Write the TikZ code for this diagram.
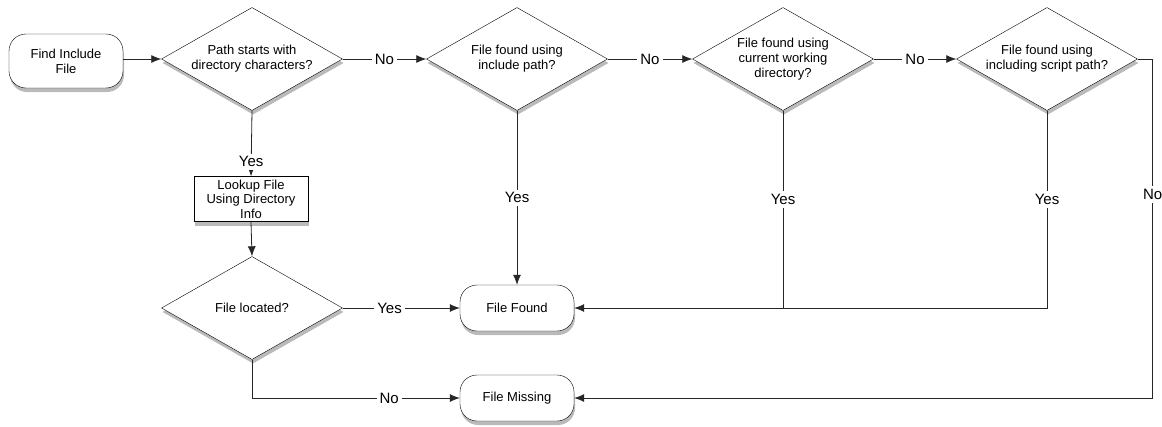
\documentclass[tikz,border=0pt]{standalone}
\usepackage{fontspec}
\setmainfont{Liberation Sans}
\usetikzlibrary{positioning, shapes.geometric, arrows.meta, shadows}

\tikzset{
  shade/.style={drop shadow={shadow xshift=1pt, shadow yshift=-4pt, opacity=0.45, fill=black!60}},
  terminal/.style={draw, fill=white, rounded corners=17pt, minimum width=114pt, minimum height=46pt,
    align=center, font=\fontsize{13}{15}\selectfont, shade},
  decision/.style={draw, diamond, aspect=1.75, fill=white, minimum width=181pt, minimum height=103pt,
    inner sep=0pt, align=center, font=\fontsize{13}{15}\selectfont, shade},
  process/.style={draw, fill=white, minimum width=114pt, minimum height=45pt, inner sep=1pt,
    align=center, font=\fontsize{13}{14.5}\selectfont, shade},
  flow/.style={draw=black!85, line width=0.8pt, -{Latex[length=10pt,width=8pt]}},
  link/.style={draw=black!85, line width=0.8pt},
  lbl/.style={fill=white, inner sep=3pt, font=\fontsize{15}{17}\selectfont}
}

\begin{document}
\begin{tikzpicture}[x=1pt, y=-1pt]
  \useasboundingbox (0,0) rectangle (1162,426);

  % shapes
  \node[terminal, minimum height=54pt] (start) at (66,61) {Find Include\\File};
  \node[decision] (dirq) at (252,59) {Path starts with\\directory characters?};
  \node[decision] (incq) at (517,59) {File found using\\include path?};
  \node[decision] (cwdq) at (783,59) {File found using\\current working\\directory?};
  \node[decision] (scrq) at (1047,59) {File found using\\including script path?};
  \node[process] (lookup) at (251,199) {Lookup File\\Using Directory\\Info};
  \node[decision] (locq) at (252,308) {File located?};
  \node[terminal] (found) at (517,308) {File Found};
  \node[terminal] (missing) at (517,398) {File Missing};

  % top row
  \draw[flow] (start.east |- dirq) -- (dirq);
  \draw[flow] (dirq.east) -- node[lbl] {No} (incq.west);
  \draw[flow] (incq.east) -- node[lbl] {No} (cwdq.west);
  \draw[flow] (cwdq.east) -- node[lbl] {No} (scrq.west);

  % yes branches
  \draw[flow] (dirq.south) -- node[lbl, pos=0.78] {Yes} (lookup.north);
  \draw[flow] (lookup.south) -- (locq.north);
  \draw[flow] (incq.south) -- node[lbl] {Yes} (found.north);
  \draw[flow] (cwdq.south) |- node[lbl, pos=0.225] {Yes} (found.east);
  \draw[link] (scrq.south) |- node[lbl, pos=0.225] {Yes} (found.east -| cwdq.south);
  \draw[flow] (locq.east) -- node[lbl, pos=0.4] {Yes} (found.west);

  % no branches
  \draw[flow] (scrq.east) -- ++(15,0) |- node[lbl, pos=0.2] {No} (missing.east);
  \draw[flow] (locq.south) |- node[lbl, pos=0.83] {No} (missing.west);
\end{tikzpicture}
\end{document}
